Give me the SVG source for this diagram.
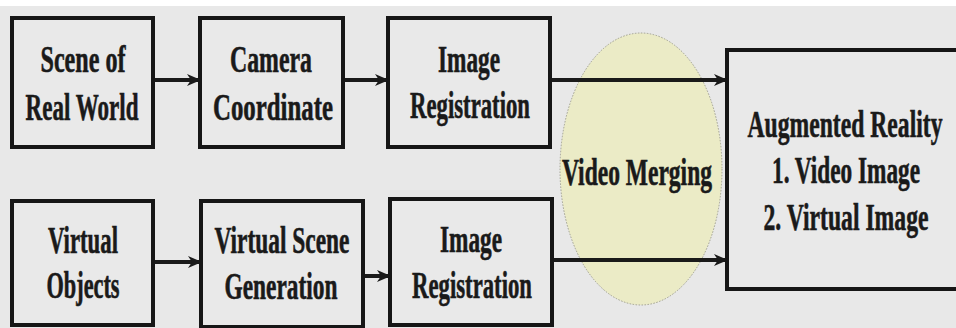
<svg xmlns="http://www.w3.org/2000/svg" width="956" height="328" viewBox="0 0 956 328">
<defs>
<style>
.box{fill:#e9e9e9;stroke:#161616;stroke-width:4}
.t{font-family:"Liberation Serif","Times New Roman",serif;font-weight:bold;font-size:37px;fill:#1a1a1a;stroke:#1a1a1a;stroke-width:0.6;text-anchor:middle}
.c{stroke:#1a1a1a;stroke-width:4;fill:none}
</style>
<marker id="ah" markerWidth="14" markerHeight="12" refX="13" refY="6" orient="auto" markerUnits="userSpaceOnUse">
<path d="M0,0 L14,6 L0,12 L4,6 Z" fill="#1a1a1a"/>
</marker>
</defs>
<rect x="0" y="0" width="956" height="328" fill="#e8e8e8"/>
<rect x="0" y="0" width="956" height="6" fill="#ffffff"/>
<g id="merge">
<ellipse cx="641" cy="169" rx="81" ry="136" fill="#ebebc6" stroke="#a0a090" stroke-width="1" stroke-dasharray="1.5 1.5"/>
<text class="t" x="637" y="185" textLength="150" lengthAdjust="spacingAndGlyphs">Video Merging</text>
</g>
<g id="connectors">
<line class="c" x1="153" y1="80" x2="200" y2="80" marker-end="url(#ah)"/>
<line class="c" x1="343" y1="80" x2="388" y2="80" marker-end="url(#ah)"/>
<line class="c" x1="550" y1="80" x2="727" y2="80" marker-end="url(#ah)"/>
<line class="c" x1="153" y1="262" x2="201" y2="262" marker-end="url(#ah)"/>
<line class="c" x1="363" y1="276" x2="390" y2="276" marker-end="url(#ah)"/>
<line class="c" x1="552" y1="260" x2="727" y2="260" marker-end="url(#ah)"/>
</g>
<g id="scene">
<rect class="box" x="12" y="18" width="141" height="129"/>
<text class="t" x="83" y="72" textLength="85" lengthAdjust="spacingAndGlyphs">Scene of</text>
<text class="t" x="82" y="120" textLength="113" lengthAdjust="spacingAndGlyphs">Real World</text>
</g>
<g id="camera">
<rect class="box" x="200" y="18" width="143" height="129"/>
<text class="t" x="271" y="72" textLength="82" lengthAdjust="spacingAndGlyphs">Camera</text>
<text class="t" x="273" y="120" textLength="120" lengthAdjust="spacingAndGlyphs">Coordinate</text>
</g>
<g id="imgreg1">
<rect class="box" x="388" y="18" width="162" height="129"/>
<text class="t" x="469" y="72" textLength="62" lengthAdjust="spacingAndGlyphs">Image</text>
<text class="t" x="470" y="118" textLength="120" lengthAdjust="spacingAndGlyphs">Registration</text>
</g>
<g id="virtual">
<rect class="box" x="12" y="201" width="141" height="124"/>
<text class="t" x="83" y="253" textLength="70" lengthAdjust="spacingAndGlyphs">Virtual</text>
<text class="t" x="83" y="298" textLength="73" lengthAdjust="spacingAndGlyphs">Objects</text>
</g>
<g id="vscene">
<rect class="box" x="201" y="201" width="162" height="126"/>
<text class="t" x="282" y="253" textLength="135" lengthAdjust="spacingAndGlyphs">Virtual Scene</text>
<text class="t" x="281" y="299" textLength="113" lengthAdjust="spacingAndGlyphs">Generation</text>
</g>
<g id="imgreg2">
<rect class="box" x="390" y="199" width="162" height="126"/>
<text class="t" x="471" y="252" textLength="62" lengthAdjust="spacingAndGlyphs">Image</text>
<text class="t" x="472" y="298" textLength="120" lengthAdjust="spacingAndGlyphs">Registration</text>
</g>
<g id="ar">
<rect x="727" y="50" width="229" height="239" fill="#e9e9e9"/>
<path d="M956,50 H727 V289 H956" fill="none" stroke="#161616" stroke-width="4"/>
<text class="t" x="845" y="137" textLength="195" lengthAdjust="spacingAndGlyphs">Augmented Reality</text>
<text class="t" x="846" y="183" textLength="148" lengthAdjust="spacingAndGlyphs">1. Video Image</text>
<text class="t" x="846" y="230" textLength="165" lengthAdjust="spacingAndGlyphs">2. Virtual Image</text>
</g>
</svg>
